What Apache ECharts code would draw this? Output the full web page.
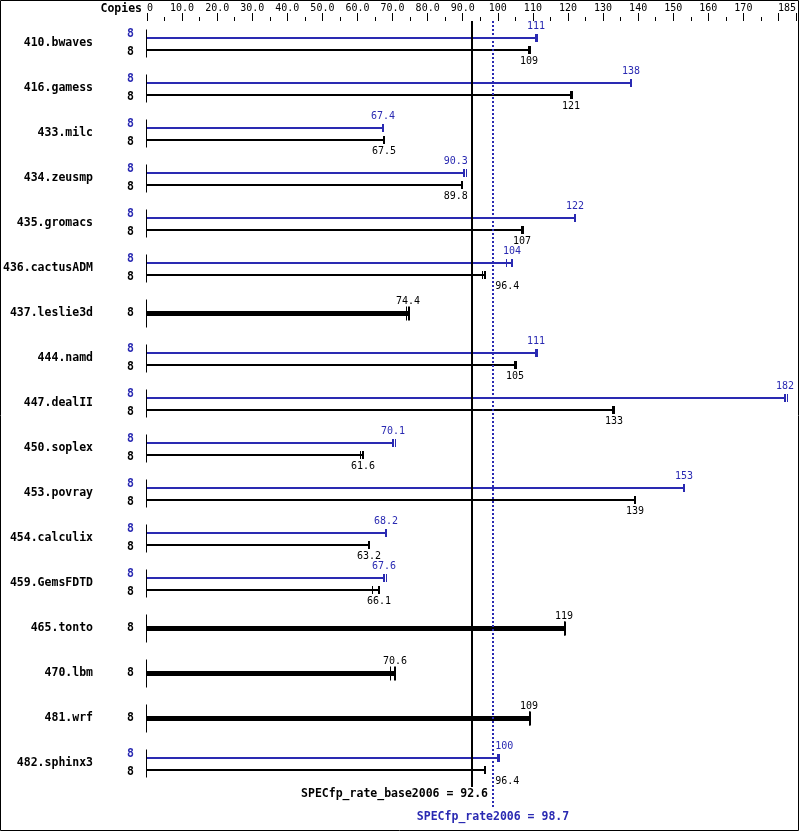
<!DOCTYPE html>
<html><head><meta charset="utf-8">
<script src="https://cdn.jsdelivr.net/npm/echarts@6/dist/echarts.min.js"></script>
<style>html,body{margin:0;padding:0;background:#fff}#c{width:799px;height:831px}</style>
</head><body><div id="c"></div>
<script>
const benchmarks = ['410.bwaves','416.gamess','433.milc','434.zeusmp','435.gromacs','436.cactusADM','437.leslie3d','444.namd','447.dealII','450.soplex','453.povray','454.calculix','459.GemsFDTD','465.tonto','470.lbm','481.wrf','482.sphinx3'];
const baseCopies = [8,8,8,8,8,8,8,8,8,8,8,8,8,8,8,8,8];
const peakCopies = [8,8,8,8,8,8,null,8,8,8,8,8,8,null,null,null,8];
const peakValues = [111,138,67.4,90.3,122,104,null,111,182,70.1,153,68.2,67.6,null,null,null,100];
const baseValues = [109,121,67.5,89.8,107,96.4,74.4,105,133,61.6,139,63.2,66.1,119,70.6,109,96.4];
const peakRuns = [[110.8,111,111.2],[137.8,138,138.2],[67.2,67.4,67.5],[90.2,90.3,91.2],[121.8,122,122.2],[102.6,104,104.1],null,[110.8,111,111.2],[182,182,182.6],[70.1,70.1,70.7],[152.8,153,153.2],[68.1,68.2,68.4],[67.4,67.6,68.3],null,null,null,[100,100.2,100.4]];
const baseRuns = [[108.9,109,109.2],[120.9,121,121.2],[67.5,67.5,67.5],[89.7,89.8,90],[106.9,107,107.2],[95.5,96.4,96.5],[73.9,74.4,74.8],[104.9,105,105.2],[132.6,133,133.3],[61.0,61.6,61.7],[138.9,139,139.2],[63.1,63.2,63.3],[64.4,66.1,66.2],[118.9,119,119.2],[69.3,70.6,70.7],[108.9,109,109.2],[96.3,96.4,96.5]];
const tickValues = [0,10,20,30,40,50,60,70,80,90,100,110,120,130,140,150,160,170,185];
const tickLabels = ['0','10.0','20.0','30.0','40.0','50.0','60.0','70.0','80.0','90.0','100','110','120','130','140','150','160','170','185'];
const baseMean = 92.6;
const peakMean = 98.7;
const baseMeanLabel = 'SPECfp_rate_base2006 = 92.6';
const peakMeanLabel = 'SPECfp_rate2006 = 98.7';

const BLUE = '#2a2ab2';
const MONO = "'DejaVu Sans Mono', 'Liberation Mono', monospace";
const valFont = '10px ' + MONO;
const boldFont = 'bold 11.5px ' + MONO;

function fmt(v){ return v >= 100 ? String(Math.round(v)) : v.toFixed(1); }

function renderRow(params, api){
  const row = api.value(0);
  const base = api.value(1);
  const peak = api.value(2);
  const hasPeak = !isNaN(peak) && peakValues[row] != null;
  const c = api.coord([0, row]);
  const x0 = Math.round(c[0]), cy = c[1];
  const baseX = api.coord([baseMean, row])[0];
  const peakX = api.coord([peakMean, row])[0];
  const ch = [];
  ch.push({type:'line', shape:{x1:x0-0.5,y1:cy-14,x2:x0-0.5,y2:cy+14}, style:{stroke:'#000',lineWidth:1}});
  const bars = hasPeak ? [
    {v:peak, runs:peakRuns[row], color:BLUE, y:Math.round(cy-5.5), w:2, mh:8, ldy:-11.5, cdy:-9, copies:peakCopies[row], endW:2},
    {v:base, runs:baseRuns[row], color:'#000', y:Math.round(cy+6), w:2, mh:8, ldy:11.5, cdy:9, copies:baseCopies[row], endW:2}
  ] : [
    {v:base, runs:baseRuns[row], color:'#000', y:Math.floor(cy)+0.5, w:5, mh:14, ldy:-12, cdy:0, copies:baseCopies[row], endW:1}
  ];
  bars.forEach(b => {
    const xe = Math.round(api.coord([b.v, row])[0]);
    ch.push({type:'line', shape:{x1:x0,y1:b.y,x2:xe,y2:b.y}, style:{stroke:b.color,lineWidth:b.w}});
    (b.runs || [b.v]).forEach(r => {
      const rx = Math.floor(api.coord([r, row])[0]) + 0.5;
      ch.push({type:'line', shape:{x1:rx,y1:b.y-b.mh/2,x2:rx,y2:b.y+b.mh/2}, style:{stroke:b.color,lineWidth:1}});
    });
    if (b.endW > 1) {
      ch.push({type:'line', shape:{x1:xe,y1:b.y-b.mh/2,x2:xe,y2:b.y+b.mh/2}, style:{stroke:b.color,lineWidth:b.endW}});
    }
    const txt = fmt(b.v);
    const w = txt.length * 6;
    let lx = xe, align = 'center';
    const l = xe - w/2 - 1, r = xe + w/2 + 1;
    const hits = [baseX, peakX].some(m => m > l && m < r);
    if (hits) {
      if (xe < baseX) { lx = baseX - 4; align = 'right'; }
      else { lx = peakX + 2; align = 'left'; }
    }
    ch.push({type:'text', style:{text:txt, x:lx, y:b.y + b.ldy, fill:b.color, font:valFont, align:align, verticalAlign:'middle'}});
    ch.push({type:'text', style:{text:String(b.copies), x:x0-13, y:cy + b.cdy, fill:b.color, font:boldFont, align:'right', verticalAlign:'middle'}});
  });
  return {type:'group', children:ch};
}

function renderMeans(params, api){
  const cs = params.coordSys;
  const bx = Math.round(api.coord([baseMean, 0])[0]);
  const px = Math.round(api.coord([peakMean, 0])[0]);
  const top = cs.y, bottom = cs.y + cs.height;
  return {type:'group', children:[
    {type:'line', shape:{x1:bx,y1:top,x2:bx,y2:bottom+1}, style:{stroke:'#000',lineWidth:2}},
    {type:'line', shape:{x1:px,y1:top,x2:px,y2:bottom+21}, style:{stroke:BLUE,lineWidth:2,lineDash:[2,2]}},
    {type:'text', style:{text:baseMeanLabel, x:px-5, y:bottom+8, fill:'#000', font:boldFont, align:'right', verticalAlign:'middle'}},
    {type:'text', style:{text:peakMeanLabel, x:px, y:bottom+31, fill:BLUE, font:boldFont, align:'center', verticalAlign:'middle'}}
  ]};
}

const rowData = benchmarks.map((b, i) => [i, baseValues[i], peakValues[i] == null ? NaN : peakValues[i]]);

const chart = echarts.init(document.getElementById('c'), null, {renderer:'canvas'});
chart.setOption({
  animation:false,
  backgroundColor:'#fff',
  grid:{left:147, top:21, width:649, height:765},
  xAxis:{type:'value', position:'top', min:0, max:185, interval:10,
    axisLine:{show:false}, splitLine:{show:false},
    axisTick:{show:true, length:8, lineStyle:{color:'#000',width:1}},
    minorTick:{show:true, splitNumber:2, length:4, lineStyle:{color:'#000',width:1}},
    minorSplitLine:{show:false},
    axisLabel:{margin:8, color:'#000', fontFamily:MONO, fontSize:10, alignMinLabel:'left', alignMaxLabel:'right', showMinLabel:true, showMaxLabel:true, hideOverlap:false,
      formatter:function(v){ const i = tickValues.indexOf(v); return i >= 0 ? tickLabels[i] : ''; }}
  },
  yAxis:{type:'category', inverse:true, data:benchmarks,
    axisLine:{show:false}, axisTick:{show:false}, splitLine:{show:false},
    axisLabel:{margin:54, color:'#000', fontFamily:MONO, fontSize:11.5, fontWeight:'bold'}
  },
  graphic:[
    {type:'rect', silent:true, shape:{x:0.5,y:0.5,width:798,height:830}, style:{fill:'none',stroke:'#000',lineWidth:1}},
    {type:'text', silent:true, style:{text:'Copies', x:142, y:9, fill:'#000', font:boldFont, align:'right', verticalAlign:'middle'}}
  ],
  series:[
    {type:'custom', renderItem:renderRow, data:rowData, encode:{x:[1,2], y:0}, z:2},
    {type:'custom', renderItem:renderMeans, data:[[0,0]], z:3}
  ]
});
</script></body></html>
